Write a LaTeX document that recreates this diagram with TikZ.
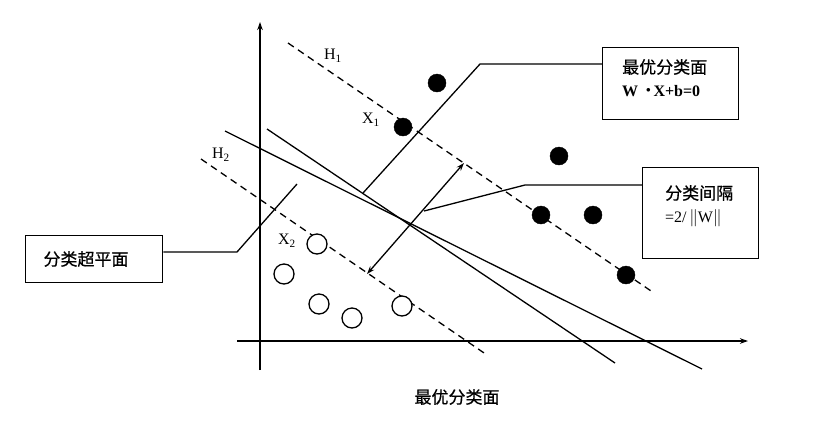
\documentclass[tikz,border=0pt]{standalone}
\usepackage{fontspec}
\setmainfont{Liberation Serif}
\newfontfamily\cjk[FakeBold=0.6]{Noto Sans CJK SC}
\usetikzlibrary{arrows.meta}
\tikzset{
  ln/.style={line width=1.3pt, black},
  dsh/.style={line width=1.3pt, dash pattern=on 7pt off 5pt},
  fdot/.style={circle, fill=black, draw=black, minimum size=18pt, inner sep=0pt},
  odot/.style={circle, fill=white, draw=black, line width=1.3pt, minimum size=20pt, inner sep=0pt},
  lbox/.style={draw, line width=1.3pt, anchor=north west, inner sep=0pt},
  lab/.style={font=\fontsize{16}{18}\selectfont, inner sep=0pt},
  cjkt/.style={font=\cjk\fontsize{17}{20}\selectfont, inner sep=0pt},
  tip/.style={-{Stealth[length=8pt,width=5.5pt]}},
}
\begin{document}
\begin{tikzpicture}[x=1pt,y=-1pt]
\useasboundingbox (0,0) rectangle (818,424);
% axes
\coordinate (yb) at (260,370); \coordinate (yt) at (260,22);
\coordinate (xl) at (237,341); \coordinate (xr) at (748,341);
\draw[ln,tip] (yb) -- (yt);
\draw[ln,tip] (xl) -- (xr);
% margin lines H1, H2
\coordinate (h1a) at (288,43); \coordinate (h1b) at (654,293);
\coordinate (h2a) at (201,159); \coordinate (h2b) at (487,355);
\draw[dsh] (h1a) -- (h1b);
\draw[dsh] (h2a) -- (h2b);
% separating lines
\coordinate (la) at (225,131); \coordinate (lb) at (702,369);
\coordinate (ma) at (267,129); \coordinate (mb) at (615,363);
\draw[ln] (la) -- (lb);
\draw[ln] (ma) -- (mb);
% margin arrow
\coordinate (p2) at (367,274); \coordinate (p1) at (464,163);
\draw[ln,{Stealth[length=8pt,width=5.5pt]}-{Stealth[length=8pt,width=5.5pt]}] (p2) -- (p1);
% labels
\node[lab] (H1) at (333,56) {H\textsubscript{1}};
\node[lab] (H2) at (221,155) {H\textsubscript{2}};
\node[lab] (X1) at (371,120) {X\textsubscript{1}};
\node[lab] (X2) at (287,241) {X\textsubscript{2}};
% filled dots
\node[fdot] (d1) at (437,83) {};
\node[fdot] (d2) at (403,127) {};
\node[fdot] (d3) at (559,156) {};
\node[fdot] (d4) at (541,215) {};
\node[fdot] (d5) at (593,215) {};
\node[fdot] (d6) at (626,275) {};
% open circles
\node[odot] (o1) at (317,244) {};
\node[odot] (o2) at (284,274) {};
\node[odot] (o3) at (319,304) {};
\node[odot] (o4) at (352,318) {};
\node[odot] (o5) at (402,306) {};
% boxes
\node[lbox, minimum width=136pt, minimum height=72pt] (bopt) at (602,47) {};
\node[cjkt, anchor=west] (topt) at (622,67) {最优分类面};
\node[font=\bfseries\fontsize{16}{18}\selectfont, inner sep=0pt, anchor=west] (eq) at (622,91) {W\enspace\raisebox{3.5pt}{\fontsize{9}{9}\selectfont$\bullet$}\,X+b=0};
\node[lbox, minimum width=116pt, minimum height=91pt] (bgap) at (642,167) {};
\node[cjkt, anchor=west] (tgap) at (665,193) {分类间隔};
\node[lab, anchor=west] (eq2) at (665,218) {=2/\,$\|$W$\|$};
\node[lbox, minimum width=137pt, minimum height=47pt] (bhyp) at (25,235) {};
\node[cjkt] (thyp) at (86,259) {分类超平面};
% leader lines
\coordinate (c1) at (363,193); \coordinate (c1b) at (480,64);
\draw[ln] (c1) -- (c1b) -- (bopt.west |- c1b);
\coordinate (c2) at (424,211); \coordinate (c2b) at (525,185);
\draw[ln] (c2) -- (c2b) -- (bgap.west |- c2b);
\coordinate (c3) at (297,184); \coordinate (c3b) at (237,252);
\draw[ln] (c3) -- (c3b) -- (bhyp.east |- c3b);
% caption
\node[cjkt] (cap) at (457,397) {最优分类面};
\end{tikzpicture}
\end{document}
